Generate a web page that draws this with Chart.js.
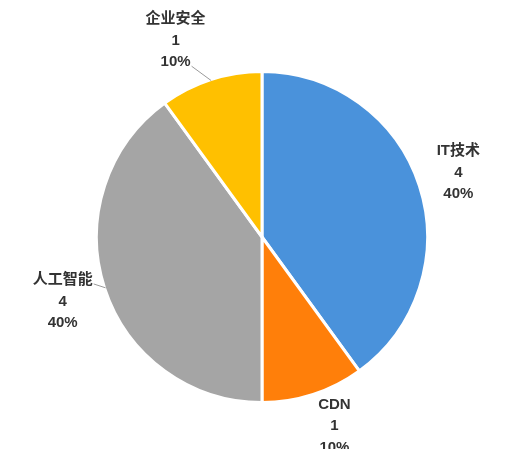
<!DOCTYPE html>
<html>
<head>
<meta charset="utf-8">
<script src="https://cdn.jsdelivr.net/npm/chart.js@4/dist/chart.umd.min.js"></script>
<style>
  html, body { margin: 0; padding: 0; background: #fff; }
  #wrap { width: 518px; height: 449px; }
</style>
</head>
<body>
<div id="wrap"><canvas id="myChart"></canvas></div>
<script>
const categories = ["IT技术", "CDN", "人工智能", "企业安全"];
const values = [4, 1, 4, 1];
const sliceColors = ["#4A92DB", "#FF7F0A", "#A5A5A5", "#FFC000"];
// which labels get a leader line back to their slice
const leaderLines = [false, false, true, true];

const total = values.reduce((a, b) => a + b, 0);

// draws the Excel style outside labels (name / value / percent)
const outLabels = {
  id: "outLabels",
  afterDatasetsDraw(chart, args, opts) {
    const ctx = chart.ctx;
    const meta = chart.getDatasetMeta(0);
    ctx.save();
    ctx.font = "bold 15px 'Liberation Sans', 'Noto Sans CJK SC', sans-serif";
    ctx.fillStyle = "#333";
    ctx.textAlign = "center";
    ctx.textBaseline = "middle";
    meta.data.forEach((arc, i) => {
      const p = arc.getProps(["x", "y", "startAngle", "endAngle", "outerRadius"], true);
      const mid = (p.startAngle + p.endAngle) / 2;
      const d = p.outerRadius * 1.26;
      const nudge = opts.nudge[i] || [0, 0];
      const lx = p.x + Math.cos(mid) * d + nudge[0];
      const ly = p.y + Math.sin(mid) * d + nudge[1];
      const lines = [categories[i], String(values[i]), Math.round(values[i] / total * 100) + "%"];
      const lh = 21.5;
      const y0 = ly - lh;
      lines.forEach((t, k) => ctx.fillText(t, lx, y0 + k * lh));

      if (leaderLines[i]) {
        const ax = p.x + Math.cos(mid) * (p.outerRadius - 1);
        const ay = p.y + Math.sin(mid) * (p.outerRadius - 1);
        // attach to the text line closest to the slice edge
        let best = 0;
        lines.forEach((t, k) => {
          if (Math.abs(y0 + k * lh - ay) < Math.abs(y0 + best * lh - ay)) best = k;
        });
        const w = ctx.measureText(lines[best]).width;
        const ex = lx + w / 2 + 1;
        const ey = y0 + best * lh + 4;
        ctx.strokeStyle = "#9a9a9a";
        ctx.lineWidth = 1;
        ctx.beginPath();
        ctx.moveTo(ex, ey);
        ctx.lineTo(ax, ay);
        ctx.stroke();
      }
    });
    ctx.restore();
  }
};

const ctx = document.getElementById("myChart").getContext("2d");
const myChart = new Chart(ctx, {
  type: "pie",
  data: {
    labels: categories,
    datasets: [{
      data: values,
      backgroundColor: sliceColors,
      borderColor: "#fff",
      borderWidth: 3
    }]
  },
  options: {
    responsive: true,
    maintainAspectRatio: false,
    animation: false,
    layout: { padding: { top: 70, bottom: 45, left: 95, right: 89 } },
    plugins: {
      legend: { display: false },
      tooltip: { enabled: false },
      outLabels: { nudge: [[-2, 0], [8, -9], [-1, 0], [-22, 2]] }
    }
  },
  plugins: [outLabels]
});
</script>
</body>
</html>
